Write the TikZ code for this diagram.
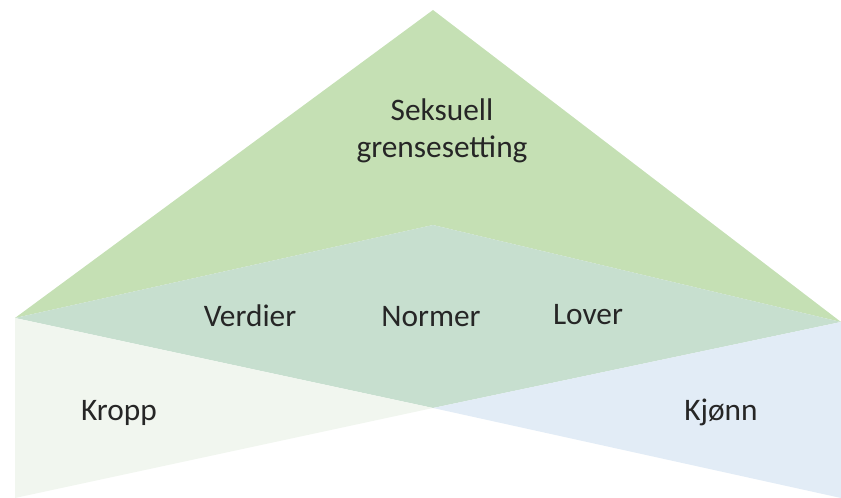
\documentclass[tikz,border=0pt]{standalone}
\usepackage{fontspec}
\setmainfont{Carlito}
\definecolor{topgreen}{RGB}{197,224,180}
\definecolor{midgreen}{RGB}{199,223,207}
\definecolor{leftpale}{RGB}{241,246,239}
\definecolor{rightblue}{RGB}{226,236,246}
\definecolor{labeltext}{RGB}{38,38,38}
\tikzset{
    word/.style={anchor=base, text=labeltext, inner sep=0pt,
        font=\fontsize{23.5}{28}\selectfont},
    title/.style={word, anchor=center, align=center},
}

\begin{document}
\begin{tikzpicture}[x=0.75pt, y=-0.75pt]
    \useasboundingbox (0,0) rectangle (841,498);

    % corner points of the shapes
    \coordinate (apex)   at (433,10);
    \coordinate (west)   at (15,318);
    \coordinate (east)   at (841,322);
    \coordinate (top)    at (433,225);
    \coordinate (bottom) at (433,408);
    \coordinate (sw)     at (15,498);
    \coordinate (se)     at (841,498);

    \fill[topgreen]  (apex) -- (west) -- (top) -- (east) -- cycle;
    \fill[midgreen]  (west) -- (top) -- (east) -- (bottom) -- cycle;
    \fill[leftpale]  (west) -- (bottom) -- (sw) -- cycle;
    \fill[rightblue] (east) -- (bottom) -- (se) -- cycle;

    \node[title] (seksuell) at (442,131) {Seksuell\\grensesetting};
    \node[word] (verdier) at (250,327) {Verdier};
    \node[word] (normer)  at (431,327) {Normer};
    \node[word] (lover)   at (588,325) {Lover};
    \node[word] (kropp)   at (119,420) {Kropp};
    \node[word] (kjonn)   at (721,420) {Kjønn};
\end{tikzpicture}
\end{document}
